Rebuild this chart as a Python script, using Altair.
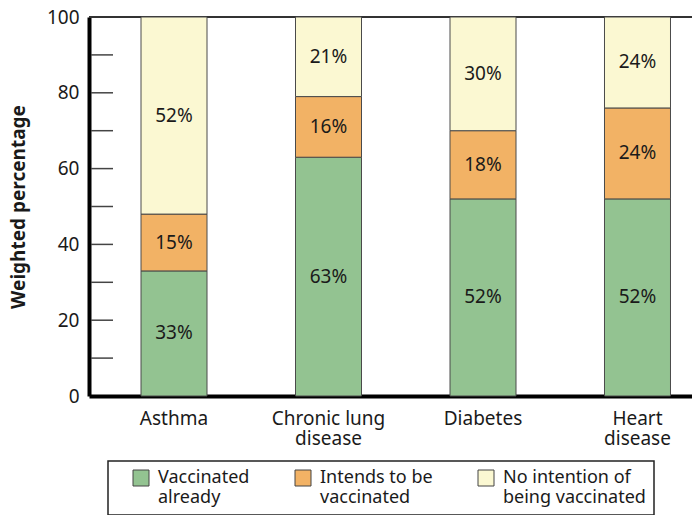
import altair as alt
import pandas as pd

categories = ["Asthma", "Chronic lung\ndisease", "Diabetes", "Heart\ndisease"]
statuses = ["Vaccinated\nalready", "Intends to be\nvaccinated", "No intention of\nbeing vaccinated"]
vaccinated = [33, 63, 52, 52]
intends = [15, 16, 18, 24]
no_intention = [52, 21, 30, 24]
colors = ["#93c391", "#f2b265", "#fbf8d2"]
y_labels = [0, 20, 40, 60, 80, 100]
tick_marks = [10, 20, 30, 40, 50, 60, 70, 80, 90]

FONT = "Noto Sans"
TXT = "#1a1a1a"

rows = []
for i, c in enumerate(categories):
    base = 0
    for j, (s, vals) in enumerate(zip(statuses, [vaccinated, intends, no_intention])):
        v = vals[i]
        rows.append(dict(category=c, status=s, order=j, value=v, y0=base, y1=base + v,
                         mid=base + v / 2, label=f"{v}%"))
        base += v
df = pd.DataFrame(rows)
ticks_df = pd.DataFrame({"t": tick_marks})

xscale = alt.Scale(domain=categories, paddingInner=0.5728, paddingOuter=0.2379, align=0.7075)
yscale = alt.Scale(domain=[0, 100], nice=False)

x_enc = alt.X("category:N", sort=categories, scale=xscale,
              axis=alt.Axis(title=None, labelExpr="split(datum.label, '\\n')",
                            labelFontSize=19, labelFont=FONT, labelColor=TXT, labelAngle=0,
                            ticks=False, domainColor="#000", domainWidth=4,
                            labelPadding=13, labelLimit=300, labelLineHeight=20))

bars = alt.Chart(df).mark_bar(stroke="#4a4a4a", strokeWidth=1).encode(
    x=x_enc,
    y=alt.Y("y0:Q", scale=yscale,
            axis=alt.Axis(title="Weighted percentage", titleFontSize=19, titleFont=FONT,
                          titleFontWeight="bold", titleColor=TXT, values=y_labels,
                          ticks=False, grid=False, domainColor="#000", domainWidth=4,
                          labelFontSize=19, labelFont=FONT, labelColor=TXT,
                          labelPadding=10, titlePadding=18)),
    y2="y1:Q",
    color=alt.Color("status:N", sort=statuses,
                    scale=alt.Scale(domain=statuses, range=colors),
                    legend=alt.Legend(title=None, orient="none", legendX=19, legendY=444,
                                      direction="horizontal", columns=3,
                                      symbolType="square", symbolSize=256,
                                      symbolStrokeColor="#444", symbolStrokeWidth=1,
                                      symbolOffset=16,
                                      labelFontSize=18, labelFont=FONT, labelColor=TXT,
                                      labelExpr="split(datum.label, '\\n')",
                                      labelLimit=300, columnPadding=28,
                                      strokeColor="#222", fillColor="white", padding=8,
                                      labelOffset=8)),
)

texts = alt.Chart(df).mark_text(fontSize=19, font=FONT, color=TXT, baseline="middle").encode(
    x=alt.X("category:N", sort=categories, scale=xscale),
    y=alt.Y("mid:Q", scale=yscale),
    text="label:N",
)

tick_rules = alt.Chart(ticks_df).mark_rule(color="#444", strokeWidth=1.5).encode(
    y=alt.Y("t:Q", scale=yscale),
    x=alt.value(2),
    x2=alt.value(24),
)

top_line = alt.Chart(ticks_df).mark_rule(color="#333", strokeWidth=1).encode(
    y=alt.datum(100),
)

chart = alt.layer(tick_rules, top_line, bars, texts).properties(
    width=603, height=379,
    autosize=alt.AutoSizeParams(type="none"),
    padding={"left": 81, "top": 9, "right": 0, "bottom": 119},
).configure_view(stroke=None).configure_legend(strokeWidth=1.5)

chart.save("out.html", embed_options={"renderer": "svg", "actions": False})
